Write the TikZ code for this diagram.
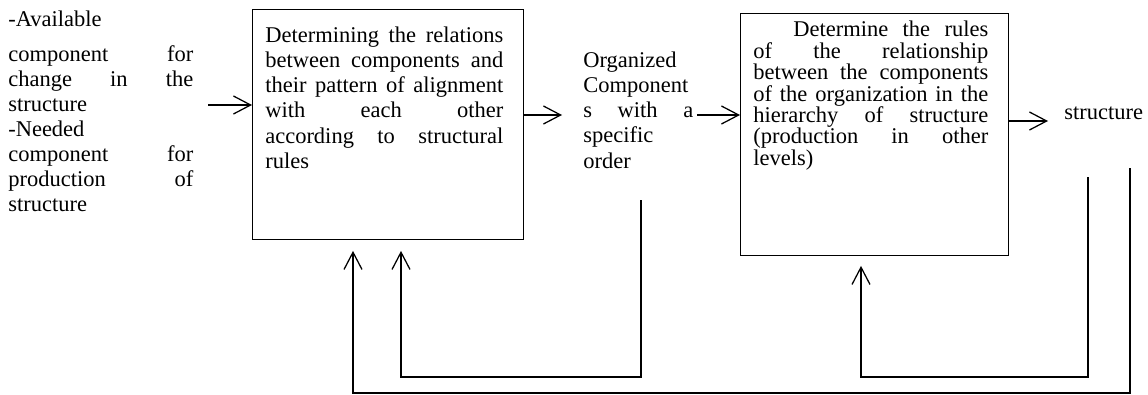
\documentclass[tikz,border=0pt]{standalone}
\usepackage{fontspec}
\setmainfont{Liberation Serif}
\usetikzlibrary{positioning}
\usetikzlibrary{arrows.meta}

\tikzset{
  box/.style={draw, line width=0.6pt, inner sep=0pt},
  txt/.style={inner sep=0pt, align=left, font=\fontsize{16}{17.8}\selectfont},
  arr/.style={-{Straight Barb[length=4.3mm,width=4.5mm]}, line width=0.9pt},
}

\begin{document}
\begin{tikzpicture}[x=0.025cm, y=-0.025cm]
  \useasboundingbox (0,0) rectangle (1148,394);

  % the two process boxes
  \node[box, anchor=north west, minimum width=6.775cm, minimum height=5.75cm] (relbox) at (252,9) {};
  \node[box, anchor=north west, minimum width=6.7cm, minimum height=6.05cm] (rulebox) at (740,13) {};

  % texts
  \node[txt, anchor=north west, text width=4.625cm] (inputs) at (8,11) {-Available\\[7pt]
    component \hfill for\\
    change \hfill in \hfill the\\
    structure\\
    -Needed\\
    component \hfill for\\
    production \hfill of\\
    structure};
  \node[txt, anchor=north west, text width=5.95cm] (reltext) at (265,27) {Determining \hfill the \hfill relations\\
    between \hfill components \hfill and\\
    their \hfill pattern \hfill of \hfill alignment\\
    with \hfill each \hfill other\\
    according \hfill to \hfill structural\\
    rules};
  \node[txt, anchor=north west, text width=2.75cm] (organized) at (583,52) {Organized\\
    Component\\
    s \hfill with \hfill a\\
    specific\\
    order};
  \node[txt, anchor=north west, text width=5.875cm, font=\fontsize{16}{15.2}\selectfont] (ruletext) at (753,21) {\hspace*{1cm}Determine \hfill the \hfill rules\\
    of \hfill the \hfill relationship\\
    between \hfill the \hfill components\\
    of \hfill the \hfill organization \hfill in \hfill the\\
    hierarchy \hfill of \hfill structure\\
    (production \hfill in \hfill other\\
    levels)};
  \node[txt, anchor=west] (structure) at (1064,113) {structure};

  % forward arrows
  \coordinate (inA) at (208,105);
  \coordinate (orgin) at (562,115);
  \coordinate (orgout) at (697,115);
  \coordinate (strin) at (1048,121);
  \draw[arr] (inA) -- (inA -| relbox.west);
  \draw[arr] (orgin -| relbox.east) -- (orgin);
  \draw[arr] (orgout) -- (orgout -| rulebox.west);
  \draw[arr] (strin -| rulebox.east) -- (strin);

  % feedback loops
  \coordinate (fbOuter) at (1130,168);
  \coordinate (fbInner) at (1088,177);
  \coordinate (fbOrg) at (641,200);
  \coordinate (baseOuter) at (353,393);
  \coordinate (baseInner) at (861,377);
  \coordinate (baseOrg) at (401,377);
  \draw[arr, shorten >=2.75mm] (fbOuter) |- (baseOuter) -- (baseOuter |- relbox.south);
  \draw[arr, shorten >=2.75mm] (fbOrg) |- (baseOrg) -- (baseOrg |- relbox.south);
  \draw[arr, shorten >=2.5mm] (fbInner) |- (baseInner) -- (baseInner |- rulebox.south);
\end{tikzpicture}
\end{document}
